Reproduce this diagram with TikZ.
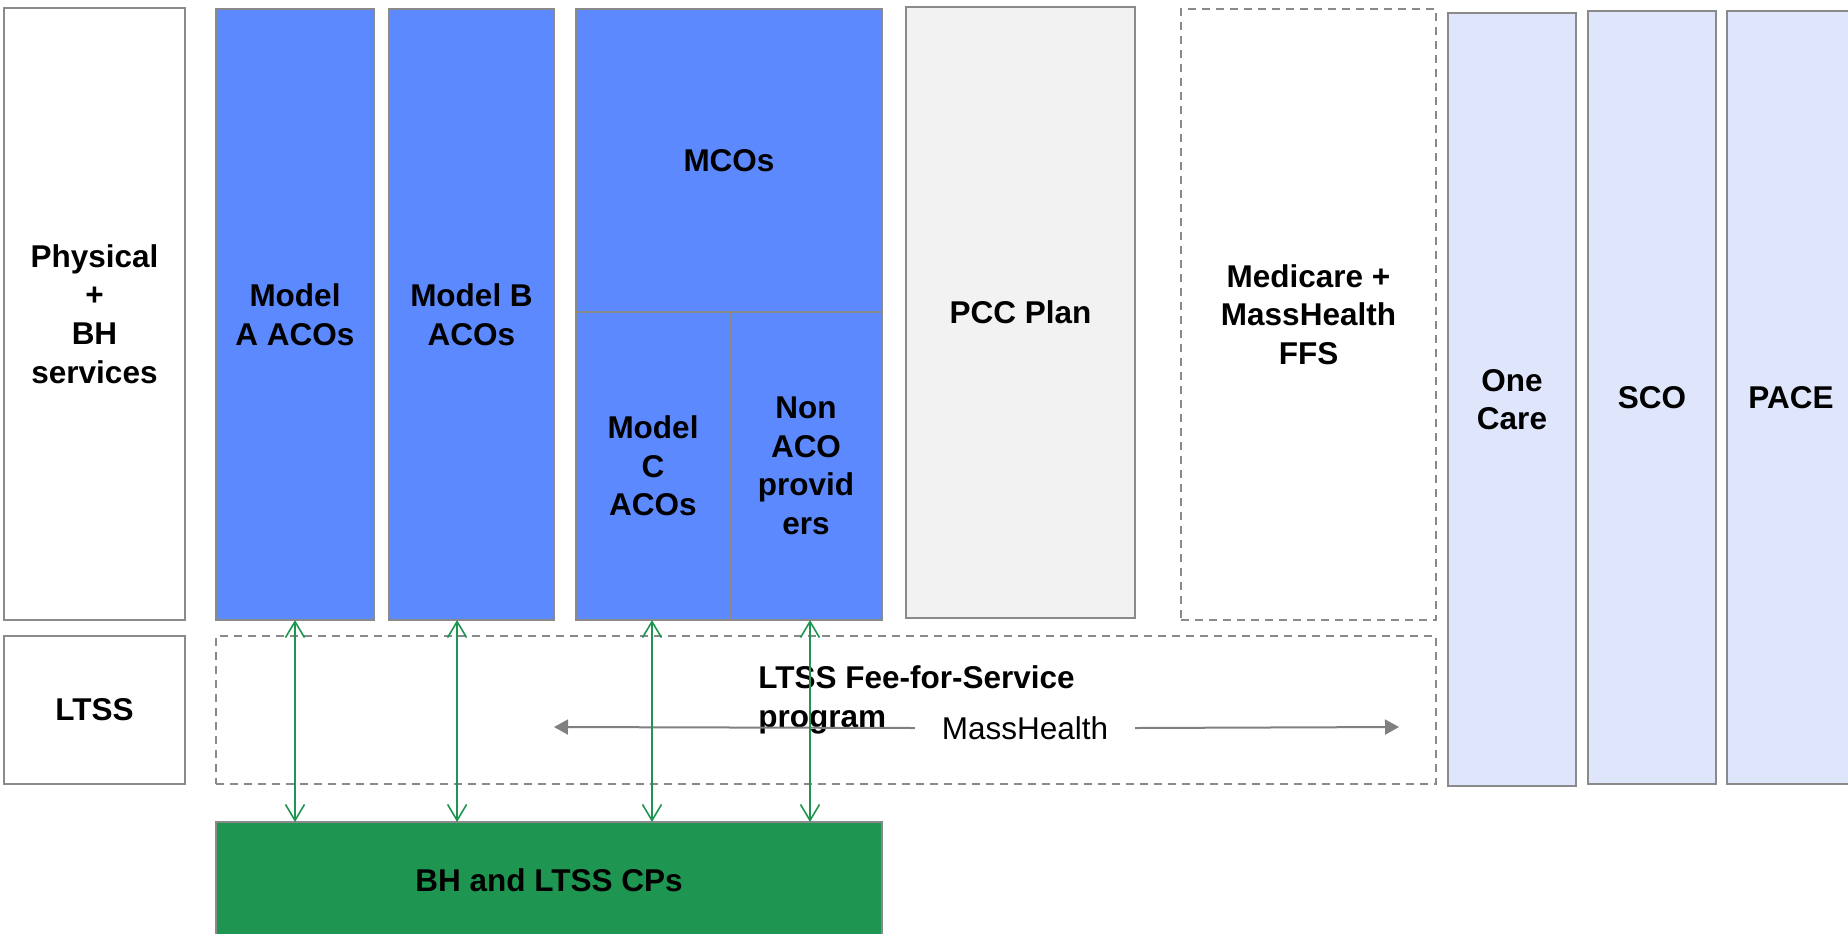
\documentclass[tikz,border=0pt]{standalone}
\usepackage{fontspec}
\setmainfont{Liberation Sans}
\usetikzlibrary{arrows.meta}
\definecolor{cblue}{HTML}{5D89FF}
\definecolor{cgreen}{HTML}{1E9550}
\definecolor{clav}{HTML}{DFE6FC}
\definecolor{cborder}{HTML}{8A8A8A}
\definecolor{cpcc}{HTML}{F2F2F2}
\definecolor{carrow}{HTML}{808080}
\begin{document}
\begin{tikzpicture}[x=0.5pt,y=-0.5pt,
  box/.style={draw=cborder, line width=1pt, inner sep=0pt, outer sep=0pt, align=center,
    font=\bfseries\fontsize{15.75}{19.3}\selectfont},
  bluebox/.style={box, fill=cblue},
  lavbox/.style={box, fill=clav},
  dashbox/.style={box, dash pattern=on 4pt off 3pt},
  garrow/.style={draw=cgreen, line width=0.8pt, {Straight Barb[length=8pt,width=9.5pt]}-{Straight Barb[length=8pt,width=9.5pt]}},
  grayarrow/.style={draw=carrow, line width=1pt, -{Triangle[length=7pt,width=7.5pt]}},
  plain/.style={font=\fontsize{15.75}{19.3}\selectfont}
]
\useasboundingbox (0,0) rectangle (1848,933);
\clip (0,0) rectangle (1848,933);

% left column
\node[box, minimum width=90.5pt, minimum height=306pt] (phys) at (94.5,314) {Physical\\+\\BH\\services};
\node[box, minimum width=90.5pt, minimum height=74pt] (ltss) at (94.5,710) {LTSS};

% LTSS FFS dashed container
\node[dashbox, minimum width=610pt, minimum height=74pt] (ffs) at (826,710) {};

% blue columns
\node[bluebox, minimum width=79pt, minimum height=305.5pt] (ma) at (295,314.5) {Model\\A ACOs};
\node[bluebox, minimum width=82.5pt, minimum height=305.5pt] (mb) at (471.5,314.5) {Model B\\ACOs};
\node[bluebox, minimum width=153pt, minimum height=151.5pt] (mco) at (729,160.5) {MCOs};
\node[bluebox, minimum width=77pt, minimum height=154pt] (mc) at (653,466) {Model\\C\\ACOs};
\node[bluebox, minimum width=76pt, minimum height=154pt] (nonaco) at (806,466) {Non\\ACO\\provid\\ers};

% PCC and Medicare
\node[box, fill=cpcc, minimum width=114.5pt, minimum height=305.5pt] (pcc) at (1020.5,312.5) {PCC Plan};
\node[dashbox, minimum width=127.5pt, minimum height=305.5pt] (medi) at (1308.5,314.5) {Medicare +\\MassHealth\\FFS};

% right columns
\node[lavbox, minimum width=64pt, minimum height=386.5pt] (onecare) at (1512,399.5) {One\\Care};
\node[lavbox, minimum width=64pt, minimum height=386.5pt] (sco) at (1652,397.5) {SCO};
\node[lavbox, minimum width=64pt, minimum height=386.5pt] (pace) at (1791,397.5) {PACE};

% CP box
\node[box, fill=cgreen, minimum width=333pt, minimum height=58pt] (cp) at (549,880) {BH and LTSS CPs};

% LTSS FFS label and MassHealth arrows
\node[font=\bfseries\fontsize{15.75}{19.3}\selectfont, align=left, anchor=west, inner sep=0pt] (ffstext) at (758,700) {LTSS Fee-for-Service\\program};
\node[plain, inner xsep=13.5pt, inner ysep=0pt, outer sep=0pt] (mh) at (1025,728) {MassHealth};
\coordinate (mhl) at (554,727);
\coordinate (mhr) at (1399,727);
\draw[grayarrow] (mh.west) -- (mhl);
\draw[grayarrow] (mh.east) -- (mhr);

% green connectors
\draw[garrow] (ma.south) -- (ma.south |- cp.north);
\draw[garrow] ([xshift=-7.2pt]mb.south) -- ([xshift=-7.2pt]mb.south |- cp.north);
\draw[garrow] ([xshift=-0.5pt]mc.south) -- ([xshift=-0.5pt]mc.south |- cp.north);
\draw[garrow] ([xshift=2pt]nonaco.south) -- ([xshift=2pt]nonaco.south |- cp.north);
\end{tikzpicture}
\end{document}
